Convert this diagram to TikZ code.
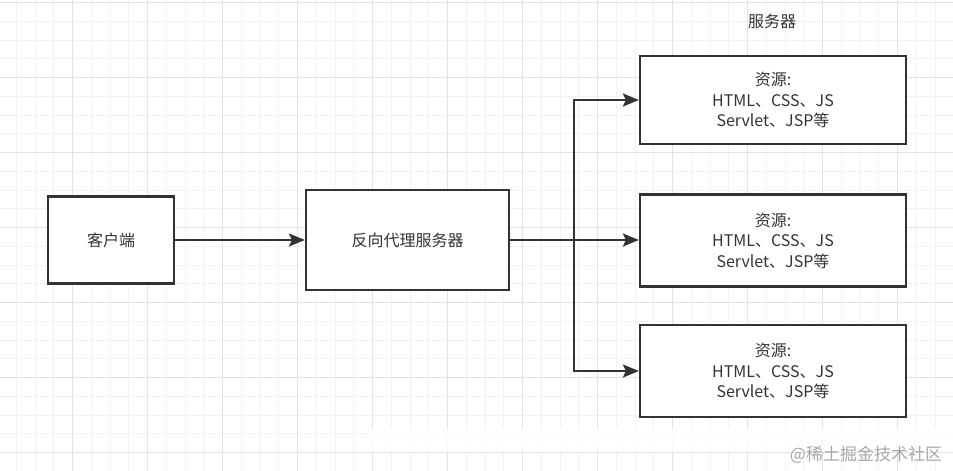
\documentclass[tikz,border=0pt]{standalone}
\usepackage{fontspec}
\setmainfont{Noto Sans CJK SC}
\usetikzlibrary{arrows.meta}
\definecolor{ink}{HTML}{333333}
\definecolor{gminor}{HTML}{F2F2F2}
\definecolor{gmajor}{HTML}{E2E2E2}
\definecolor{wm}{HTML}{A8A8A8}
\tikzset{
  box/.style={draw=ink, line width=2.2pt, fill=white, inner sep=0pt, align=center,
    text=ink, font=\fontsize{16}{20.5}\selectfont},
  arr/.style={draw=ink, line width=2.2pt, -{Stealth[length=16pt,width=13pt,inset=3pt]}},
  lbl/.style={text=ink, font=\fontsize{16}{20}\selectfont, inner sep=0pt}
}
\begin{document}
\begin{tikzpicture}[x=1pt,y=-1pt]
\useasboundingbox (0,0) rectangle (953,471);
\fill[white] (0,0) rectangle (953,471);
% grid
\foreach \i in {0,...,50} {
  \draw[gminor, line width=0.8pt] ({16.25+18.75*\i},0) -- ({16.25+18.75*\i},471);
}
\foreach \i in {0,...,25} {
  \draw[gminor, line width=0.8pt] (0,{2.5+18.75*\i}) -- (953,{2.5+18.75*\i});
}
\foreach \i in {0,...,12} {
  \draw[gmajor, line width=0.8pt] ({72.5+75*\i},0) -- ({72.5+75*\i},471);
}
\foreach \i in {0,...,6} {
  \draw[gmajor, line width=0.8pt] (0,{2.5+75*\i}) -- (953,{2.5+75*\i});
}
% faded strip
\fill[white, opacity=0.8] (370,428) rectangle (953,452);

\node[box, minimum width=126pt, minimum height=87pt] (client) at (111,240) {客户端};
\node[box, minimum width=203pt, minimum height=100pt] (proxy) at (407.5,240) {反向代理服务器};
\node[box, minimum width=266pt, minimum height=88pt] (s1) at (773,100) {资源:\\HTML、CSS、JS\\Servlet、JSP等};
\node[box, minimum width=266pt, minimum height=92pt] (s2) at (773,240.5) {资源:\\HTML、CSS、JS\\Servlet、JSP等};
\node[box, minimum width=266pt, minimum height=92pt] (s3) at (773,371) {资源:\\HTML、CSS、JS\\Servlet、JSP等};
\node[lbl] (title) at (772,21) {服务器};
\node[text=wm, font=\fontsize{17}{20}\selectfont, inner sep=0pt] (mark) at (866,455) {@稀土掘金技术社区};

\coordinate (bus) at (574,240);
\draw[arr] (client.east) -- (proxy.west);
\draw[arr] (proxy.east) -- (bus) |- (s1.west);
\draw[arr] (proxy.east) -- (s2.west |- proxy.east);
\draw[arr] (proxy.east) -- (bus) |- (s3.west);
\end{tikzpicture}
\end{document}
